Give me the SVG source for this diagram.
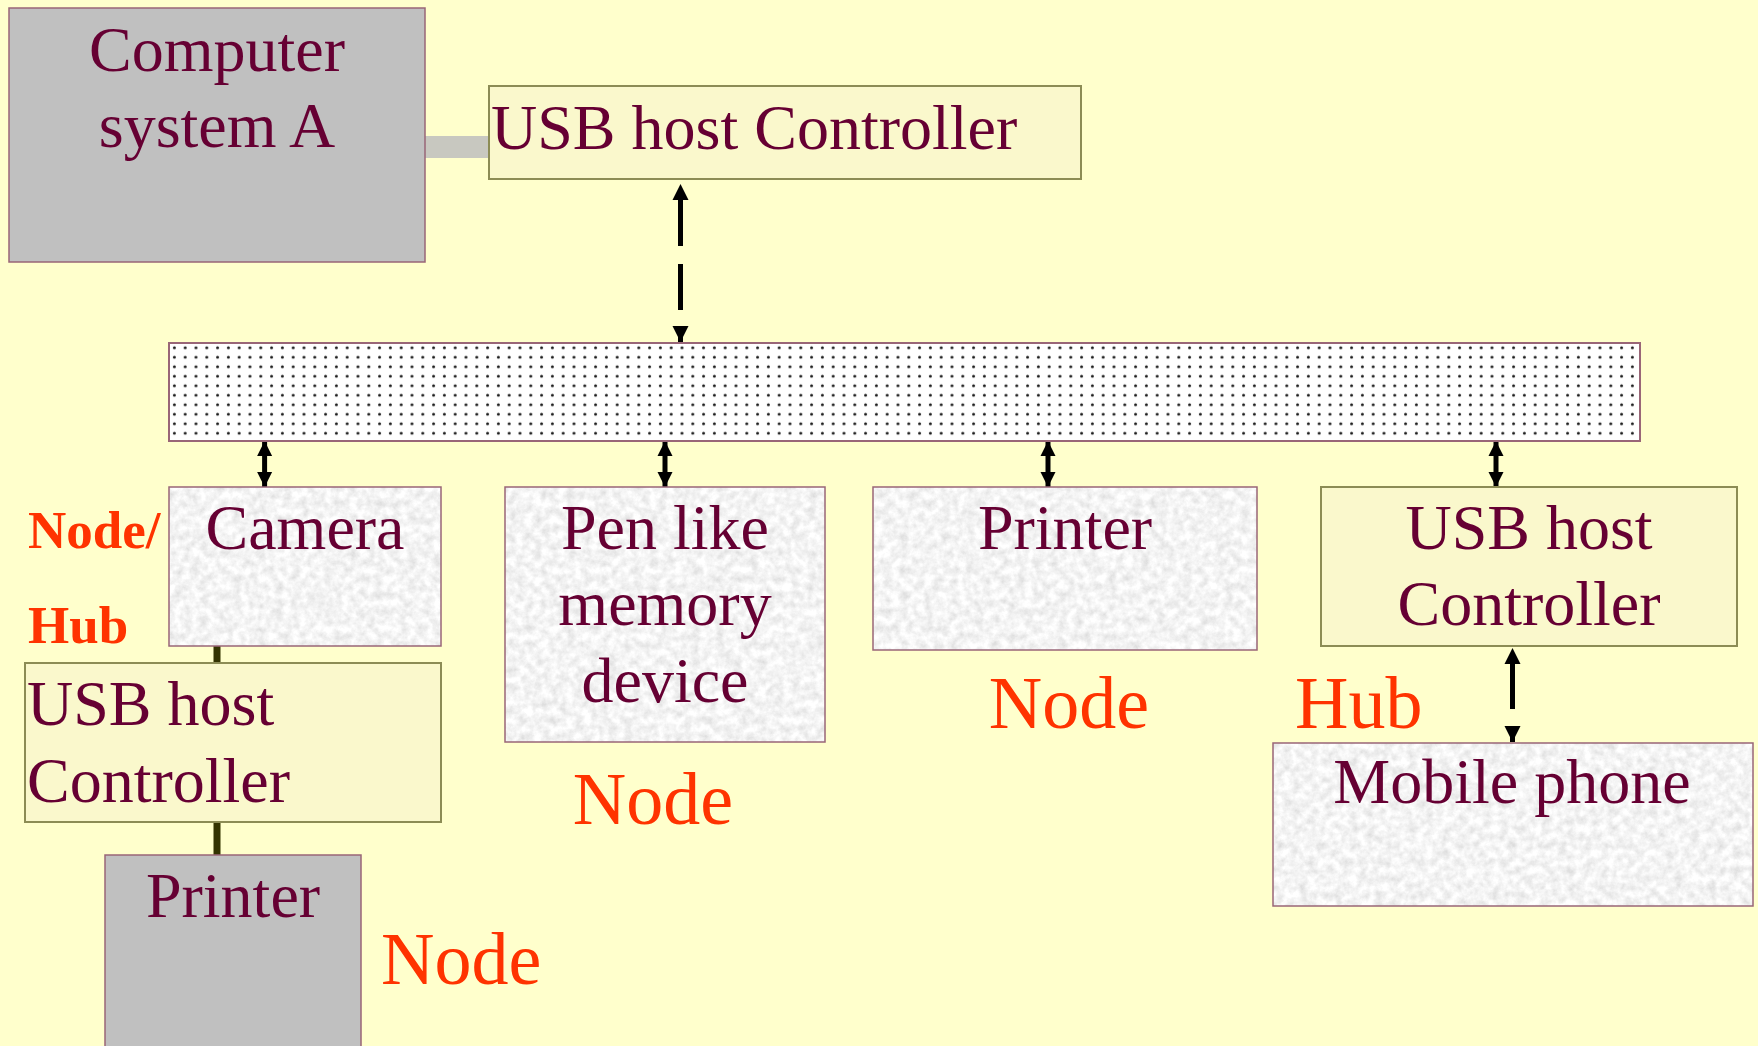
<svg xmlns="http://www.w3.org/2000/svg" width="1758" height="1046" viewBox="0 0 1758 1046">
<style>
.t{font-family:"Liberation Serif","Times New Roman",serif;font-size:64px;fill:#660033}
.o{font-family:"Liberation Serif","Times New Roman",serif;font-size:74px;fill:#FF3300}
.ob{font-family:"Liberation Serif","Times New Roman",serif;font-size:53px;font-weight:bold;fill:#FF3300}
.gray{fill:#C0C0C0;stroke:#996677;stroke-width:1.5}
.cream{fill:#FAF8CC;stroke:#8C8C55;stroke-width:2}
.tex{fill:#E8E8E8;filter:url(#paper)}
.texb{fill:none;stroke:#996677;stroke-width:1.5}
.arr{stroke:#000;stroke-width:5;fill:none}
.dash{stroke-dasharray:46 18}
.link{stroke:#333300;stroke-width:7}
</style>
<defs>
<filter id="paper" x="0" y="0" width="100%" height="100%">
<feTurbulence type="fractalNoise" baseFrequency="0.12" numOctaves="4" seed="5" result="n"/>
<feColorMatrix in="n" type="matrix" values="0.45 0 0 0 0.68  0.45 0 0 0 0.68  0.45 0 0 0 0.68  0 0 0 0 1" result="g"/>
<feComposite in="g" in2="SourceGraphic" operator="in"/>
</filter>
<pattern id="dots" x="169" y="343" width="10.8" height="9.5" patternUnits="userSpaceOnUse">
<rect width="10.8" height="9.5" fill="#FFFFFF"/>
<circle cx="5.4" cy="4.75" r="1.5" fill="#1a1a1a"/>
</pattern>
<marker id="ah" viewBox="0 0 10 10" refX="10" refY="5" markerWidth="16" markerHeight="18" markerUnits="userSpaceOnUse" orient="auto-start-reverse">
<path d="M0,0 L10,5 L0,10 z" fill="#000"/>
</marker>
<marker id="ahs" viewBox="0 0 10 10" refX="10" refY="5" markerWidth="15" markerHeight="18" markerUnits="userSpaceOnUse" orient="auto-start-reverse">
<path d="M0,0 L10,5 L0,10 z" fill="#000"/>
</marker>
</defs>
<rect width="1758" height="1046" fill="#FFFFCC"/>

<g id="connectors">
<rect x="425" y="136" width="64" height="22" fill="#C8C8C0"/>
<line class="arr dash" x1="680.5" y1="184" x2="680.5" y2="342" stroke-dashoffset="-16" marker-start="url(#ah)" marker-end="url(#ah)"/>
<line class="arr" x1="264.6" y1="441" x2="264.6" y2="487" stroke-width="6" marker-start="url(#ahs)" marker-end="url(#ahs)"/>
<line class="arr" x1="665" y1="441" x2="665" y2="487" stroke-width="6" marker-start="url(#ahs)" marker-end="url(#ahs)"/>
<line class="arr" x1="1048" y1="441" x2="1048" y2="487" stroke-width="6" marker-start="url(#ahs)" marker-end="url(#ahs)"/>
<line class="arr" x1="1496" y1="441" x2="1496" y2="487" stroke-width="6" marker-start="url(#ahs)" marker-end="url(#ahs)"/>
<line class="arr dash" x1="1512.5" y1="648" x2="1512.5" y2="742" stroke-dashoffset="-15" marker-start="url(#ah)" marker-end="url(#ah)"/>
<line class="link" x1="217" y1="646" x2="217" y2="663"/>
<line class="link" x1="217" y1="822" x2="217" y2="855"/>
</g>

<g id="computer">
<rect class="gray" x="9" y="8" width="416" height="254"/>
<text class="t" x="217" y="71" text-anchor="middle">Computer</text>
<text class="t" x="217" y="147" text-anchor="middle">system A</text>
</g>

<g id="usb-host-top">
<rect class="cream" x="489" y="86" width="592" height="93"/>
<text class="t" x="491" y="149">USB host Controller</text>
</g>

<g id="bus">
<rect x="169" y="343" width="1471" height="98" fill="url(#dots)" stroke="#996677" stroke-width="2"/>
</g>

<g id="camera">
<rect class="tex" x="169" y="487" width="272" height="159"/>
<rect class="texb" x="169" y="487" width="272" height="159"/>
<text class="t" x="305" y="549" text-anchor="middle">Camera</text>
</g>
<g id="label-node-hub">
<text class="ob" x="28" y="548">Node/</text>
<text class="ob" x="28" y="643">Hub</text>
</g>

<g id="usb-host-left">
<rect class="cream" x="25" y="663" width="416" height="159"/>
<text class="t" x="27" y="725">USB host</text>
<text class="t" x="27" y="802">Controller</text>
</g>

<g id="printer-left">
<rect class="gray" x="105" y="855" width="256" height="200"/>
<text class="t" x="233" y="917" text-anchor="middle">Printer</text>
</g>
<text id="label-node-left" class="o" x="381" y="984">Node</text>

<g id="pen">
<rect class="tex" x="505" y="487" width="320" height="255"/>
<rect class="texb" x="505" y="487" width="320" height="255"/>
<text class="t" x="665" y="549" text-anchor="middle">Pen like</text>
<text class="t" x="665" y="625" text-anchor="middle">memory</text>
<text class="t" x="665" y="702" text-anchor="middle">device</text>
</g>
<text id="label-node-pen" class="o" x="653" y="824" text-anchor="middle">Node</text>

<g id="printer">
<rect class="tex" x="873" y="487" width="384" height="163"/>
<rect class="texb" x="873" y="487" width="384" height="163"/>
<text class="t" x="1065" y="549" text-anchor="middle">Printer</text>
</g>
<text id="label-node-printer" class="o" x="1069" y="728" text-anchor="middle">Node</text>

<g id="usb-host-right">
<rect class="cream" x="1321" y="487" width="416" height="159"/>
<text class="t" x="1529" y="549" text-anchor="middle">USB host</text>
<text class="t" x="1529" y="625" text-anchor="middle">Controller</text>
</g>
<text id="label-hub" class="o" x="1295" y="728">Hub</text>

<g id="mobile">
<rect class="tex" x="1273" y="743" width="480" height="163"/>
<rect class="texb" x="1273" y="743" width="480" height="163"/>
<text class="t" x="1512" y="803" text-anchor="middle">Mobile phone</text>
</g>
</svg>
